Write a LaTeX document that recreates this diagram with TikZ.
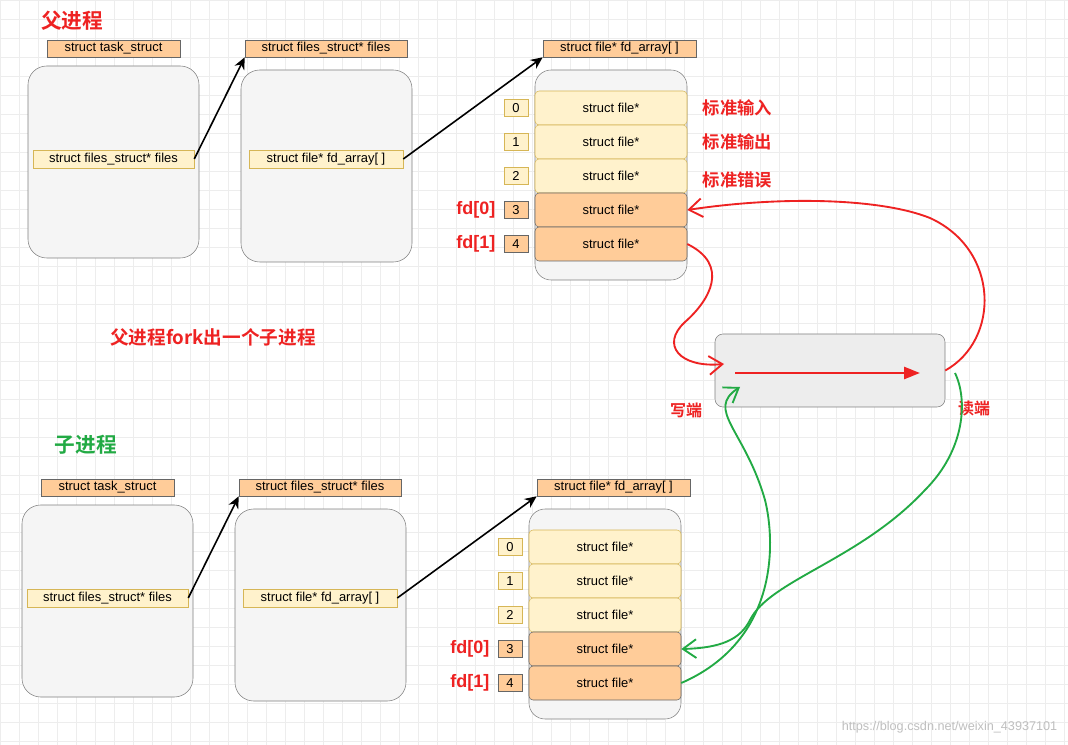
\documentclass[tikz,border=0pt]{standalone}
\usepackage{fontspec}
\setmainfont{Liberation Sans}
\newfontfamily\cjk{Noto Sans CJK SC}[BoldFont={Noto Sans CJK SC Bold}]
\usetikzlibrary{arrows.meta}
\definecolor{lab}{HTML}{FFCC99}
\definecolor{lite}{HTML}{FFF2CC}
\definecolor{liteb}{HTML}{D6B656}
\definecolor{myred}{HTML}{EE2222}
\definecolor{mygreen}{HTML}{22AA44}
\tikzset{
 W/.style={minimum width={#1*0.75}},
 H/.style={minimum height={#1*0.75}},
 lbl/.style={draw=gray!80!black,fill=lab,inner sep=0pt,H=17,font=\fontsize{9.7}{11}\selectfont},
 inner/.style={draw=liteb,fill=lite,inner sep=0pt,H=18,font=\fontsize{9.7}{11}\selectfont},
 bigbox/.style={draw=gray,fill=black!4,rounded corners=14,inner sep=0pt},
 cellA/.style={draw=liteb,fill=lite,rounded corners=3,W=152,H=34,inner sep=0pt,font=\fontsize{9.7}{11}\selectfont},
 cellB/.style={draw=black!60,fill=lab,rounded corners=3,W=152,H=34,inner sep=0pt,font=\fontsize{9.7}{11}\selectfont},
 idxA/.style={draw=liteb,fill=lite,W=24,H=17,inner sep=0pt,font=\fontsize{9.7}{11}\selectfont},
 idxB/.style={draw=black!60,fill=lab,W=24,H=17,inner sep=0pt,font=\fontsize{9.7}{11}\selectfont},
 red/.style={text=myred,font=\cjk\bfseries\fontsize{13}{15}\selectfont},
 fdl/.style={text=myred,font=\bfseries\fontsize{13.5}{15}\selectfont,anchor=east},
 ptr/.style={very thick,-{Stealth[length=9,width=8]}},
 hand/.style={line width=1.4pt,-{Straight Barb[length=10,width=14]}},
}
\newcommand\drawproc[1]{%
 \node[lbl,W=133] (#1ts) at (113.5,48.5) {struct task\_struct};
 \node[bigbox,W=171,H=192] (#1b1) at (113.5,162) {};
 \node[inner,W=161] (#1i1) at (113.5,159) {struct files\_struct* files};
 \node[lbl,W=162] (#1fs) at (326,48.5) {struct files\_struct* files};
 \node[bigbox,W=171,H=192] (#1b2) at (326.5,166) {};
 \node[inner,W=154] (#1i2) at (326,159) {struct file* fd\_array[ ]};
 \node[lbl,W=153] (#1fa) at (619.5,48.5) {struct file* fd\_array[ ]};
 \node[bigbox,W=152,H=210,rounded corners=12] (#1arr) at (611,175) {};
 \foreach \i/\y in {0/108,1/142,2/176}{
  \node[cellA] (#1c\i) at (611,\y) {struct file*};
  \node[idxA] (#1n\i) at (516,\y) {\i};}
 \foreach \i/\y in {3/210,4/244}{
  \node[cellB] (#1c\i) at (611,\y) {struct file*};
  \node[idxB] (#1n\i) at (516,\y) {\i};}
 \node[fdl] (#1f0) at (500,210) {fd[0]};
 \node[fdl] (#1f1) at (500,244) {fd[1]};
 \draw[ptr] (#1i1.east) -- (#1fs.south west);
 \draw[ptr] (#1i2.east) -- (#1fa.south west);
}
\begin{document}
\begin{tikzpicture}[x=0.75pt,y=-0.75pt]
\useasboundingbox (0,0) rectangle (1068,745);
\fill[white] (0,0) rectangle (1068,745);
\foreach \k in {0,19,...,1068}{\draw[black!7] (\k,0) -- (\k,745);}
\foreach \k in {0,19,...,745}{\draw[black!7] (0,\k) -- (1068,\k);}
\drawproc{p}
\begin{scope}[shift={(-6,439)}]
\drawproc{c}
\end{scope}
\node[red,font=\cjk\bfseries\fontsize{15.5}{18}\selectfont] (t1) at (72,21) {父进程};
\node[red,text=mygreen,font=\cjk\bfseries\fontsize{15.5}{18}\selectfont] (t2) at (86,445) {子进程};
\node[red,font=\cjk\bfseries\fontsize{14}{16}\selectfont] (t3) at (213,337) {父进程fork出一个子进程};
\node[red,anchor=west] (s0) at (698,108) {标准输入};
\node[red,anchor=west] (s1) at (698,142) {标准输出};
\node[red,anchor=west] (s2) at (698,180) {标准错误};
\node[draw=gray,fill=black!7,rounded corners=6,W=230,H=73] (pipe) at (830,370.5) {};
\coordinate (pin) at (735,373);
\coordinate (pout) at (920,373);
\draw[myred,line width=2pt,-{Triangle[length=12,width=9]}] (pin) -- (pout);
\node[red,font=\cjk\bfseries\fontsize{12}{14}\selectfont] (w) at (686,410) {写端};
\node[red,font=\cjk\bfseries\fontsize{12}{14}\selectfont] (r) at (974,408) {读端};
\draw[myred,hand] (pc4.east) .. controls (730,265) and (710,300) .. (685,322) .. controls (660,345) and (680,368) .. (724,364);
\draw[myred,hand] (pipe.east) .. controls (1000,340) and (1000,250) .. (930,218) .. controls (880,198) and (780,196) .. (pc3.east);
\draw[mygreen,hand] (cc4.east) .. controls (780,640) and (775,540) .. (765,500) .. controls (745,430) and (705,410) .. (740,387);
\draw[mygreen,hand] (955,373) .. controls (968,400) and (965,450) .. (925,490) .. controls (860,560) and (770,580) .. (750,620) .. controls (740,640) and (720,648) .. (cc3.east);
\node[text=black!25,font=\fontsize{9.5}{11}\selectfont,anchor=east] (wm) at (1062,727) {https://blog.csdn.net/weixin\_43937101};
\end{tikzpicture}
\end{document}
